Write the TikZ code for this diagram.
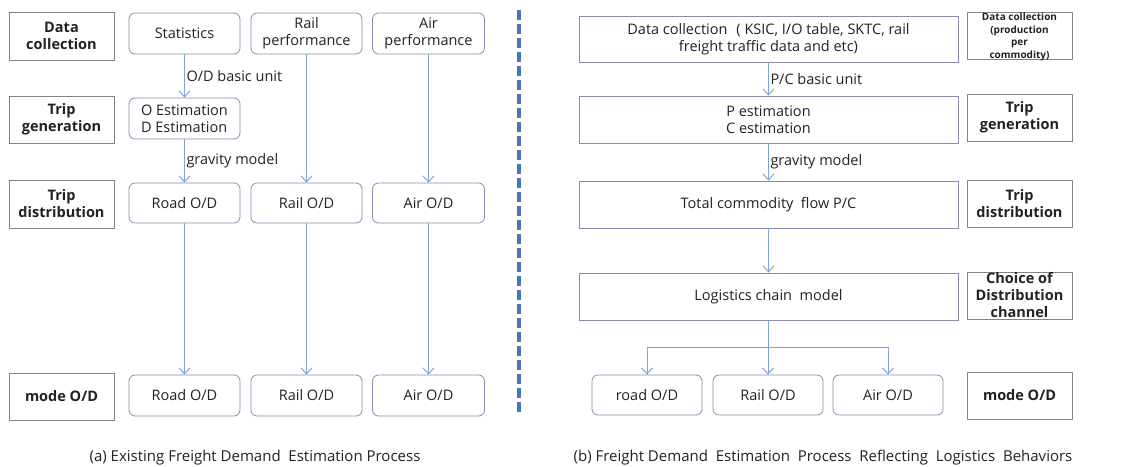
\documentclass[tikz,border=0pt]{standalone}
\usepackage{fontspec}
\setmainfont{Open Sans}
\usetikzlibrary{arrows.meta}
\definecolor{arrc}{HTML}{7EA3D6}
\definecolor{boxc}{HTML}{8A8AB0}
\definecolor{labc}{HTML}{80808F}
\definecolor{txtc}{HTML}{222222}
\definecolor{sepc}{HTML}{4576BC}
\tikzset{
  x=1pt, y=-1pt,
  every node/.style={text=txtc, inner sep=0pt, align=center},
  lab/.style={draw=labc, line width=0.9pt, minimum width=105pt, font=\fontsize{14.5}{17}\selectfont\bfseries},
  rbox/.style={draw=boxc, line width=0.8pt, rounded corners=6pt, font=\fontsize{14.5}{17}\selectfont},
  sbox/.style={draw=boxc, line width=0.8pt, minimum width=379pt, minimum height=47pt, font=\fontsize{14.5}{17}\selectfont},
  arr/.style={draw=arrc, line width=1pt, -{Straight Barb[length=6pt,width=11pt,line width=1pt]}},
  conn/.style={draw=arrc, line width=1pt},
  elab/.style={font=\fontsize{14.5}{15}\selectfont, anchor=west},
  captxt/.style={font=\fontsize{15}{16}\selectfont},
}
\begin{document}
\begin{tikzpicture}
\useasboundingbox (0,0) rectangle (1127,466);
\fill[white] (0,0) rectangle (1127,466);
% ---------- left panel ----------
\node[lab, minimum height=48pt] (la1) at (61.5,36) {Data\\collection};
\node[lab, minimum height=47pt] (la2) at (61.5,119.5) {Trip\\generation};
\node[lab, minimum height=48pt] (la3) at (61.5,204) {Trip\\distribution};
\node[lab, minimum height=47pt] (la4) at (61.5,396.5) {mode O/D};

\node[rbox, minimum width=111pt, minimum height=41pt] (stat) at (184.5,33.5) {Statistics};
\node[rbox, minimum width=111pt, minimum height=41pt] (rperf) at (306.5,33.5) {Rail\\performance};
\node[rbox, minimum width=112pt, minimum height=41pt] (aperf) at (428.5,33.5) {Air\\performance};
\node[rbox, minimum width=111pt, minimum height=41pt, align=left] (odest) at (184.5,118.5) {O Estimation\\D Estimation};

\node[rbox, minimum width=111pt, minimum height=40pt] (road1) at (184.5,203) {Road O/D};
\node[rbox, minimum width=111pt, minimum height=40pt] (rail1) at (306.5,203) {Rail O/D};
\node[rbox, minimum width=112pt, minimum height=40pt] (air1) at (428.5,203) {Air O/D};

\node[rbox, minimum width=111pt, minimum height=41pt] (road2) at (184.5,395.5) {Road O/D};
\node[rbox, minimum width=111pt, minimum height=41pt] (rail2) at (306.5,395.5) {Rail O/D};
\node[rbox, minimum width=112pt, minimum height=41pt] (air2) at (428.5,395.5) {Air O/D};

\draw[arr] (stat) -- (odest) node[elab, midway, xshift=1.5pt] {O/D basic unit};
\draw[arr] (odest) -- (road1) node[elab, midway, xshift=1.5pt] {gravity model};
\draw[arr] (rperf) -- (rail1);
\draw[arr] (aperf) -- (air1);
\draw[arr] (road1) -- (road2);
\draw[arr] (rail1) -- (rail2);
\draw[arr] (air1) -- (air2);

\node[captxt] (capa) at (255,458) {(a) Existing Freight Demand\ \ Estimation Process};

% ---------- separator ----------
\draw[sepc, line width=4pt, dash pattern=on 10pt off 4pt] (519,10) -- (519,414);

% ---------- right panel ----------
\node[sbox, minimum height=46pt] (rdata) at (768.5,39) {Data collection\hspace{9pt}( KSIC, I/O table,\ SKTC,\ rail\\freight traffic data and etc)};
\node[sbox] (pc) at (768.5,119.5) {P estimation\\C estimation};
\node[sbox] (tcf) at (768.5,204.5) {Total commodity\ \ flow P/C};
\node[sbox] (lcm) at (768.5,296.5) {Logistics chain\ \ model};

\node[lab, minimum height=47pt] (lb1) at (1019.5,35.5) {};
\node[font=\fontsize{10}{12.5}\selectfont\bfseries] (lb1t) at (1019.5,37) {Data collection\\(production\\per\\commodity)};
\node[lab, minimum height=47pt] (lb2) at (1019.5,117.5) {Trip\\generation};
\node[lab, minimum height=47pt] (lb3) at (1019.5,203.5) {Trip\\distribution};
\node[lab, minimum height=47pt] (lb4) at (1019.5,295.5) {};
\node[font=\fontsize{14.5}{17}\selectfont\bfseries] (lb4t) at (1019.5,295) {Choice of\\Distribution\\channel};
\node[lab, minimum height=47pt] (lb5) at (1019.5,395.5) {mode O/D};

\node[rbox, minimum width=110pt, minimum height=40pt] (road3) at (647,395) {road O/D};
\node[rbox, minimum width=110pt, minimum height=40pt] (rail3) at (768,395) {Rail O/D};
\node[rbox, minimum width=110pt, minimum height=40pt] (air3) at (888,395) {Air O/D};

\draw[arr] (rdata) -- (pc) node[elab, midway, xshift=1.5pt] {P/C basic unit};
\draw[arr] (pc) -- (tcf) node[elab, midway, xshift=1.5pt] {gravity model};
\draw[arr] (tcf) -- (lcm);
\coordinate (br) at (768,347);
\draw[conn] (lcm.south -| br) -- (br);
\draw[arr] (br) -- (rail3.north);
\draw[arr] (br) -| (road3.north);
\draw[arr] (br) -| (air3.north);

\node[captxt] (capb) at (823,458) {(b) Freight Demand\ \ Estimation\ \ Process\ \ Reflecting\ \ Logistics\ \ Behaviors};
\end{tikzpicture}
\end{document}
